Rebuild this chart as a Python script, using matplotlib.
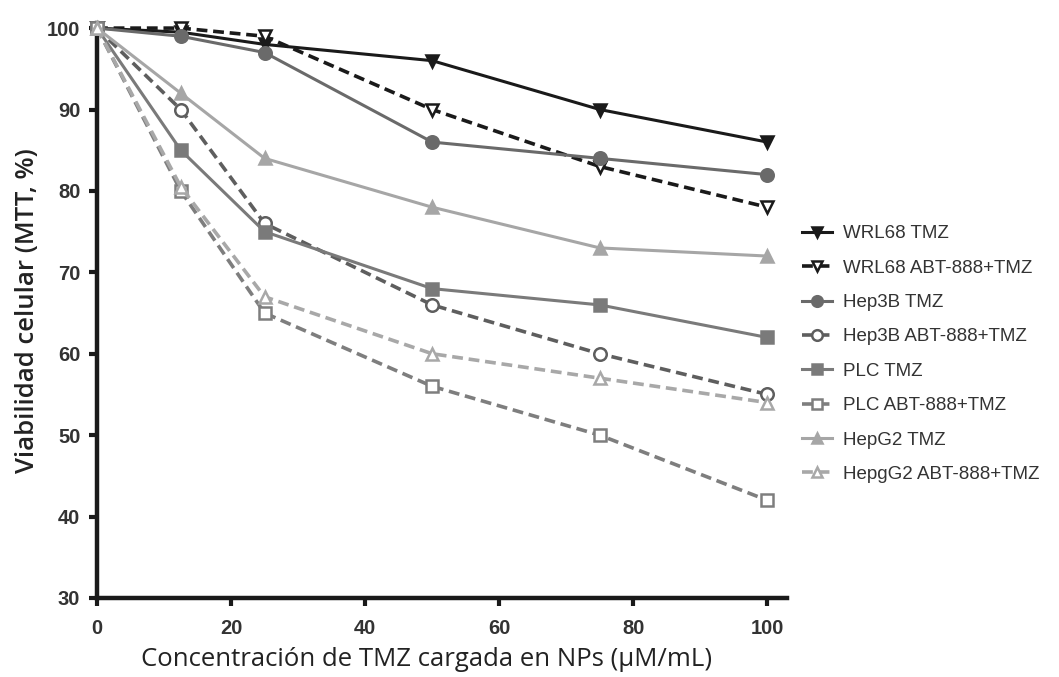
import matplotlib.pyplot as plt

# concentration of TMZ (uM/mL)
conc = [0, 12.5, 25, 50, 75, 100]

wrl68_tmz = [100, 99.5, 98, 96, 90, 86]
wrl68_abt = [100, 100, 99, 90, 83, 78]
hep3b_tmz = [100, 99, 97, 86, 84, 82]
hep3b_abt = [100, 90, 76, 66, 60, 55]
plc_tmz = [100, 85, 75, 68, 66, 62]
plc_abt = [100, 80, 65, 56, 50, 42]
hepg2_tmz = [100, 92, 84, 78, 73, 72]
hepg2_abt = [100, 80.5, 67, 60, 57, 54]

labels = ["WRL68 TMZ", "WRL68 ABT-888+TMZ", "Hep3B TMZ", "Hep3B ABT-888+TMZ",
          "PLC TMZ", "PLC ABT-888+TMZ", "HepG2 TMZ", "HepgG2 ABT-888+TMZ"]

plt.rcParams['font.family'] = ['Liberation Sans', 'DejaVu Sans']

fig = plt.figure(figsize=(10.59, 6.77), dpi=100)
ax = fig.add_axes([0.0916, 0.1167, 0.652, 0.849])

series = [
    (wrl68_tmz, '#1a1a1a', '-', 'v', True),
    (wrl68_abt, '#1a1a1a', '--', 'v', False),
    (hep3b_tmz, '#6a6a6a', '-', 'o', True),
    (hep3b_abt, '#5e5e5e', '--', 'o', False),
    (plc_tmz, '#7a7a7a', '-', 's', True),
    (plc_abt, '#7e7e7e', '--', 's', False),
    (hepg2_tmz, '#a6a6a6', '-', '^', True),
    (hepg2_abt, '#a8a8a8', '--', '^', False),
]

for (vals, col, ls, mk, filled), lab in zip(series, labels):
    ax.plot(conc, vals, color=col, linestyle=ls, linewidth=2.6 if ls == '--' else 2.2,
            dashes=(3, 1.6) if ls == '--' else (None, None),
            marker=mk, markersize=9, markeredgewidth=1.8,
            markerfacecolor=col if filled else 'white', markeredgecolor=col,
            label=lab, clip_on=False, zorder=3)

ax.set_xlim(0, 103)
ax.set_ylim(30, 100.6)
ax.set_xticks([0, 20, 40, 60, 80, 100])
ax.set_yticks([30, 40, 50, 60, 70, 80, 90, 100])

for s in ['top', 'right']:
    ax.spines[s].set_visible(False)
for s in ['left', 'bottom']:
    ax.spines[s].set_linewidth(3.2)
    ax.spines[s].set_color('#1a1a1a')

ax.tick_params(direction='out', length=6, width=3, color='#1a1a1a', labelsize=14.5)
ax.tick_params(axis='x', pad=9)
ax.tick_params(axis='y', pad=6)
for t in ax.get_xticklabels() + ax.get_yticklabels():
    t.set_fontweight('bold')
    t.set_color('#333333')

ax.set_xlabel('Concentración de TMZ cargada en NPs (µM/mL)', fontsize=18.5,
              family=['Open Sans', 'DejaVu Sans'], color='#222222', labelpad=5)
ax.xaxis.set_label_coords(0.477, -0.085)
ax.set_ylabel('Viabilidad celular (MTT, %)', fontsize=18.5, fontweight='semibold',
              family=['Open Sans', 'DejaVu Sans'], color='#222222', labelpad=5)

fig.legend(loc='center left', bbox_to_anchor=(0.741, 0.477), frameon=False,
           fontsize=13.5, labelspacing=0.92, handlelength=1.6, handletextpad=0.6,
           markerscale=0.85, labelcolor='#333333')

fig.savefig('out.png', dpi=100)
